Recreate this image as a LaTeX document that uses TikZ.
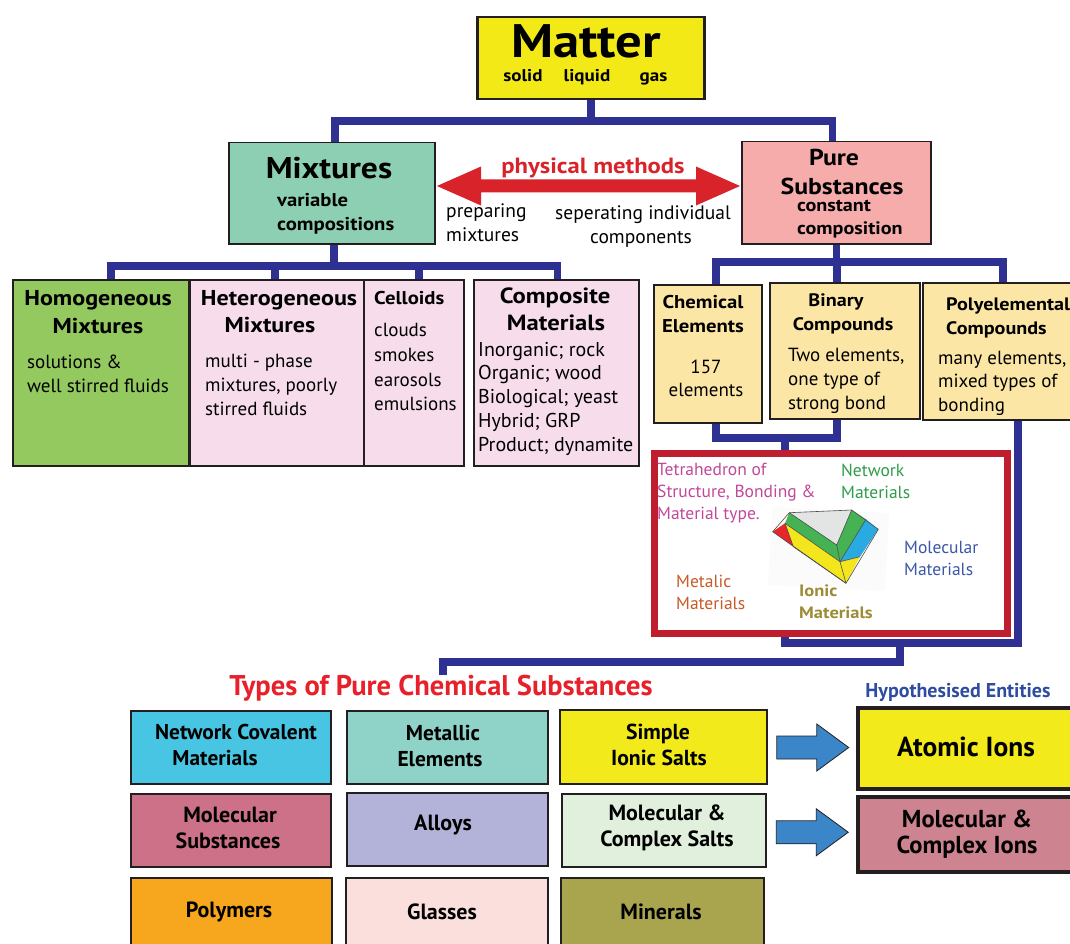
\documentclass[tikz,border=0pt]{standalone}
\usepackage{fontspec}
\setmainfont{PT Sans}[BoldFeatures={FakeStretch=1.12}]
\newfontfamily\narrowfont{PT Sans}
\usetikzlibrary{calc}
\newcommand\fs[1]{\fontsize{#1}{#1}\selectfont}
\definecolor{linkblue}{HTML}{2E3192}
\definecolor{edge}{HTML}{231F20}
\definecolor{matterY}{HTML}{F2E917}
\definecolor{mixG}{HTML}{8DCFB3}
\definecolor{pureP}{HTML}{F5ACAA}
\definecolor{homoG}{HTML}{93C95F}
\definecolor{pinkL}{HTML}{F7DDEC}
\definecolor{creamY}{HTML}{FCE6A6}
\definecolor{arrowRed}{HTML}{D8232A}
\definecolor{frameRed}{HTML}{BE1E2D}
\definecolor{tMagenta}{HTML}{C2489A}
\definecolor{tGreen}{HTML}{2E9D48}
\definecolor{tBlue}{HTML}{3B57A7}
\definecolor{tOrange}{HTML}{C95A25}
\definecolor{tOlive}{HTML}{9C8C35}
\definecolor{hypBlue}{HTML}{2F4DA0}
\definecolor{typesRed}{HTML}{E8202A}
\definecolor{cyanB}{HTML}{47C5E3}
\definecolor{metalB}{HTML}{8ED2C8}
\definecolor{saltY}{HTML}{F2EA1A}
\definecolor{molSub}{HTML}{CD7189}
\definecolor{alloyB}{HTML}{B3B3D9}
\definecolor{molSalt}{HTML}{E1EFDD}
\definecolor{polyO}{HTML}{F7A71D}
\definecolor{glassP}{HTML}{FBDFDD}
\definecolor{mineralO}{HTML}{A9A54E}
\definecolor{ionsP}{HTML}{CE8490}
\definecolor{blockB}{HTML}{3A86C8}
\definecolor{tetGrey}{HTML}{E3E4E4}
\definecolor{tetGreen}{HTML}{45B254}
\definecolor{tetBlue}{HTML}{29ABE2}
\definecolor{tetYellow}{HTML}{F3E61C}
\definecolor{tetRed}{HTML}{E8262A}
\begin{document}
\begin{tikzpicture}[x=1pt,y=-1pt,
  box/.style={draw=edge, line width=1.5pt, inner sep=0pt, anchor=north west},
  heavybox/.style={box, line width=3.5pt},
  % text lines: the node centre sits half a cap height above the baseline
  r/.style={inner sep=0pt, font=\fs{#1}, text height={0.7*#1pt}, text depth=0pt},
  b/.style={r=#1, font=\bfseries\fs{#1}},
  c/.style={r=#1, font=\narrowfont\bfseries\fs{#1}},
  rl/.style={r=#1, anchor=west},
  bl/.style={b=#1, anchor=west},
  link/.style={draw=linkblue, line width=7.5pt, line join=miter, line cap=butt},
  block/.style={draw=edge, line width=0.8pt, fill=blockB, line join=miter},
  facet/.style={draw=edge!80, line width=0.6pt, line join=round}]
\useasboundingbox[fill=white] (0,0) rectangle (1070,944);

% ---------- boxes ----------
\node[box, line width=2.5pt, fill=matterY, minimum width=227, minimum height=82] (matter) at (476,16) {};
\node[box, fill=mixG, minimum width=206, minimum height=101] (mix) at (228,142) {};
\node[box, fill=pureP, minimum width=189, minimum height=102] (pure) at (741,141) {};

\node[box, fill=homoG, minimum width=176, minimum height=186] (homo) at (12,279) {};
\node[box, fill=pinkL, minimum width=174, minimum height=186] (hetero) at (189,279) {};
\node[box, fill=pinkL, minimum width=100, minimum height=186] (cell) at (363,279) {};
\node[box, fill=pinkL, minimum width=165, minimum height=186] (comp) at (473,279) {};

\node[box, fill=creamY, minimum width=108, minimum height=138] (chem) at (653,284) {};
\node[box, fill=creamY, minimum width=150, minimum height=136] (bin) at (769,282) {};
\node[box, fill=creamY, minimum width=152, minimum height=137] (poly) at (922,282) {};

\node[box, fill=cyanB, minimum width=200, minimum height=73] (net) at (130,710) {};
\node[box, fill=metalB, minimum width=201, minimum height=73] (met) at (346,710) {};
\node[box, fill=saltY, minimum width=207, minimum height=74] (sis) at (559,709) {};
\node[heavybox, fill=saltY, minimum width=216, minimum height=81] (aions) at (856,706) {};
\node[box, fill=molSub, minimum width=200, minimum height=73] (msub) at (130,793) {};
\node[box, fill=alloyB, minimum width=201, minimum height=73] (alloy) at (346,792) {};
\node[box, fill=molSalt, minimum width=204, minimum height=73] (msalt) at (561,793) {};
\node[heavybox, fill=ionsP, minimum width=216, minimum height=75] (mions) at (856,795) {};
\node[box, fill=polyO, minimum width=201, minimum height=80] (polym) at (130,877) {};
\node[box, fill=glassP, minimum width=202, minimum height=80] (glass) at (345,877) {};
\node[box, fill=mineralO, minimum width=203, minimum height=80] (miner) at (560,877) {};

% ---------- tree connectors ----------
\coordinate (topbus) at (0,121);
\draw[link] (matter.south) -- (matter.south |- topbus);
\draw[link] ([xshift=3pt]mix.north) -- ([xshift=3pt]mix.north |- topbus)
  -- ([xshift=-4pt]pure.north |- topbus) -- ([xshift=-4pt]pure.north);

\coordinate (mixbus) at (0,266);
\draw[link] ([xshift=2pt]mix.south) -- ([xshift=2pt]mix.south |- mixbus);
\draw[link] ([xshift=10pt]homo.north) -- ([xshift=10pt]homo.north |- mixbus)
  -- ([xshift=1pt]comp.north |- mixbus) -- ([xshift=1pt]comp.north);
\draw[link] ([xshift=-2pt]hetero.north) -- ([xshift=-2pt]hetero.north |- mixbus);
\draw[link] ([xshift=5pt]cell.north) -- ([xshift=5pt]cell.north |- mixbus);

\coordinate (purebus) at (0,262);
\draw[link] (pure.south) -- (pure.south |- purebus);
\draw[link] ([xshift=8pt]chem.north) -- ([xshift=8pt]chem.north |- purebus)
  -- ([xshift=4pt]poly.north |- purebus) -- ([xshift=4pt]poly.north);
\draw[link] ([xshift=-8pt]bin.north) -- ([xshift=-8pt]bin.north |- purebus);

% elements and binary compounds join, then run down behind the tetrahedron panel
\coordinate (ebus) at (0,438);
\coordinate (sbus) at (0,643);
\draw[link] ([xshift=8pt]chem.south) -- ([xshift=8pt]chem.south |- ebus)
  -- ([xshift=-8pt]bin.south |- ebus) -- ([xshift=-8pt]bin.south);
\draw[link] (785,438) -- (785,643);
\draw[link] ([xshift=19pt]poly.south) -- ([xshift=19pt]poly.south |- sbus) -- (781.25,643);
\draw[link] (900,639.25) -- (900,662) -- (443,662) -- (443,675);

% ---------- tetrahedron panel ----------
\node[draw=frameRed, line width=7pt, fill=white, inner sep=0pt, anchor=north west,
  minimum width=353, minimum height=179.5] (tetra) at (650.5,450) {};
\fill[black!1.5, rotate around={-3:(828,549)}] (770,510) rectangle (887,588);
\fill[tetGrey] (789.3,512.7) -- (851.7,510) -- (836.7,545) -- cycle;
\fill[tetGreen] (789.3,512.7) -- (836.7,545) -- (840,561.7) -- (785,523.3) -- cycle;
\fill[tetGreen] (836.7,545) -- (851.7,510) -- (866,519.3) -- (840,561.7) -- cycle;
\fill[tetBlue] (866,519.3) -- (878.3,529.3) -- (860,556.7) -- (840,561.7) -- cycle;
\fill[tetYellow] (785,523.3) -- (840,561.7) -- (860,556.7) -- (846,583.3) -- (793.3,546.7) -- cycle;
\fill[tetRed] (772.7,531.7) -- (785,523.3) -- (793.3,546.7) -- cycle;
\draw[facet] (772.7,531.7) -- (789.3,512.7) -- (851.7,510) -- (878.3,529.3) -- (846,583.3) -- cycle;
\draw[facet] (789.3,512.7) -- (836.7,545) -- (851.7,510);
\draw[facet] (785,523.3) -- (840,561.7) -- (866,519.3);
\draw[facet] (836.7,545) -- (840,561.7) -- (846,583.3);
\draw[facet] (840,561.7) -- (860,556.7);
\draw[facet] (785,523.3) -- (793.3,546.7) -- (846,583.3);

% ---------- arrows ----------
\fill[arrowRed] (437,186) -- (481,166.5) -- (481,179.5) -- (696,179.5) -- (696,166.5)
  -- (740,186) -- (696,205.5) -- (696,192.5) -- (481,192.5) -- (481,205.5) -- cycle;

\path (sis.east) -- (aions.west) coordinate[pos=0.5] (a1);
\path (msalt.east) -- (mions.west) coordinate[pos=0.5] (a2);
\foreach \c in {a1,a2}
  \draw[block, shift={(\c)}] (-35,-11.5) -- (5,-11.5) -- (5,-23.5) -- (37,0) -- (5,23.5)
    -- (5,11.5) -- (-35,11.5) -- cycle;

% ---------- texts ----------
\node[b=47] (tMatter) at (586,41) {Matter};
\node[b=17] (tSolid) at (523,76) {solid};
\node[b=17] (tLiquid) at (587,76) {liquid};
\node[b=17] (tGas) at (653.5,76) {gas};

\node[b=30] (tMix) at (329,168) {Mixtures};
\node[bl=18.5] (tVar1) at (277,200) {variable};
\node[bl=18.5] (tVar2) at (277,224) {compositions};

\node[b=23] (tPure1) at (834,157) {Pure};
\node[b=23] (tPure2) at (842,186) {Substances};
\node[bl=18] (tCon1) at (797,205) {constant};
\node[bl=18] (tCon2) at (797,228) {composition};

\node[b=22, text=arrowRed] (tPhys) at (593,166) {physical methods};
\node[rl=19.5] (tPrep1) at (446,211) {preparing};
\node[rl=19.5] (tPrep2) at (446,235) {mixtures};
\node[rl=19.5] (tSep1) at (555,213) {seperating individual};
\node[r=19.5] (tSep2) at (641,237) {components};

\node[b=21.5] (tHomo1) at (98,298) {Homogeneous};
\node[b=21.5] (tHomo2) at (98,326) {Mixtures};
\node[rl=19] (tHomo3) at (27,362) {solutions \&};
\node[rl=19] (tHomo4) at (27,386) {well stirred fluids};

\node[b=21.5] (tHet1) at (279,298) {Heterogeneous};
\node[b=21.5] (tHet2) at (270,325) {Mixtures};
\node[rl=19] (tHet3) at (205,361) {multi - phase};
\node[rl=19] (tHet4) at (205,385) {mixtures, poorly};
\node[rl=19] (tHet5) at (205,409) {stirred fluids};

\node[bl=18.5] (tCel1) at (374,298) {Celloids};
\node[rl=19] (tCel2) at (374,330) {clouds};
\node[rl=19] (tCel3) at (374,355) {smokes};
\node[rl=19] (tCel4) at (374,380) {earosols};
\node[rl=19] (tCel5) at (374,404) {emulsions};

\node[b=22] (tCom1) at (555,296) {Composite};
\node[b=22] (tCom2) at (556,323) {Materials};
\node[rl=20] (tCom3) at (478,349) {Inorganic; rock};
\node[rl=20] (tCom4) at (478,372) {Organic; wood};
\node[rl=20] (tCom5) at (478,396) {Biological; yeast};
\node[rl=20] (tCom6) at (478,420) {Hybrid; GRP};
\node[rl=20] (tCom7) at (478,444) {Product; dynamite};

\node[b=18.5] (tChe1) at (703,302) {Chemical};
\node[b=18.5] (tChe2) at (703,326) {Elements};
\node[r=19] (tChe3) at (706,367) {157};
\node[r=19] (tChe4) at (706,390) {elements};

\node[b=18] (tBin1) at (836,300) {Binary};
\node[b=18] (tBin2) at (843,324) {Compounds};
\node[rl=19] (tBin3) at (788,355) {Two elements,};
\node[rl=19] (tBin4) at (788,379) {one type of};
\node[rl=19] (tBin5) at (788,403) {strong bond};

\node[bl=18] (tPol1) at (946,304) {Polyelemental};
\node[bl=18] (tPol2) at (946,328) {Compounds};
\node[rl=19] (tPol3) at (938,358) {many elements,};
\node[rl=19] (tPol4) at (938,381) {mixed types of};
\node[rl=19] (tPol5) at (938,405) {bonding};

\node[rl=17.5, text=tMagenta] (tTet1) at (657,469) {Tetrahedron of};
\node[rl=17.5, text=tMagenta] (tTet2) at (657,491) {Structure, Bonding \&};
\node[rl=17.5, text=tMagenta] (tTet3) at (657,513) {Material type.};
\node[rl=17.5, text=tGreen] (tNet1) at (841,470) {Network};
\node[rl=17.5, text=tGreen] (tNet2) at (841,492) {Materials};
\node[rl=17.5, text=tBlue] (tMol1) at (904,547) {Molecular};
\node[rl=17.5, text=tBlue] (tMol2) at (904,569) {Materials};
\node[rl=17.5, text=tOrange] (tMet1) at (676,581) {Metalic};
\node[rl=17.5, text=tOrange] (tMet2) at (676,603) {Materials};
\node[bl=16.5, text=tOlive] (tIon1) at (799,591) {Ionic};
\node[bl=16.5, text=tOlive] (tIon2) at (799,613) {Materials};

\node[c=28.5, text=typesRed] (tTypes) at (441,686) {Types of Pure Chemical Substances};
\node[c=20, text=hypBlue] (tHyp) at (958,690) {Hypothesised Entities};

\node[c=21.4] (tNet3) at (236,732) {Network Covalent};
\node[c=21.4] (tNet4) at (215,758) {Materials};
\node[c=21.5] (tMe1) at (443,733) {Metallic};
\node[c=21.5] (tMe2) at (440,759) {Elements};
\node[c=21.7] (tSi1) at (658,732) {Simple};
\node[c=21.7] (tSi2) at (659,758) {Ionic Salts};
\node[c=27.5] (tAt) at (966,747) {Atomic Ions};

\node[c=22] (tMs1) at (230,815) {Molecular};
\node[c=22] (tMs2) at (228,841) {Substances};
\node[c=22] (tAl) at (443,823) {Alloys};
\node[c=22] (tMc1) at (667,813) {Molecular \&};
\node[c=22] (tMc2) at (667,839) {Complex Salts};
\node[c=24.5] (tMi1) at (967,819) {Molecular \&};
\node[c=24.5] (tMi2) at (967,845) {Complex Ions};

\node[c=22] (tPy) at (229,910) {Polymers};
\node[c=22] (tGl) at (442,912) {Glasses};
\node[c=22] (tMn) at (661,912) {Minerals};
\end{tikzpicture}
\end{document}
